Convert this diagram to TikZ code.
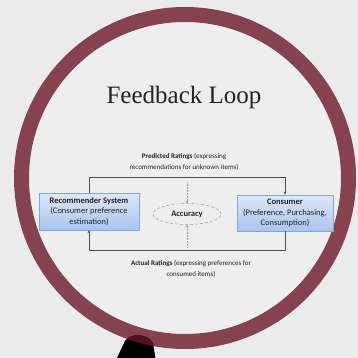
\documentclass[tikz,border=0pt]{standalone}
\usepackage{fontspec}
\setmainfont{Liberation Serif}
\newfontfamily\calfont{Carlito}
\usetikzlibrary{arrows.meta,shapes.geometric}
\definecolor{bg}{HTML}{EBEBEB}
\definecolor{disc}{HTML}{EEEEEE}
\definecolor{ring}{HTML}{854350}
\definecolor{ringdark}{HTML}{560F1E}
\definecolor{boxtop}{HTML}{DDE8FA}
\definecolor{boxbot}{HTML}{A9C4EF}
\definecolor{boxline}{HTML}{86A5D8}
\definecolor{ink}{HTML}{222222}
\definecolor{guide}{HTML}{A0A0A0}
\tikzset{
  sysbox/.style={draw=boxline, line width=0.6pt, top color=boxtop, bottom color=boxbot,
    align=center, font=\calfont\fontsize{8.5}{10.6}\selectfont, text=ink,
    inner sep=0pt},
  flow/.style={draw=ink!80, line width=0.6pt},
  flowarrow/.style={flow, -{Stealth[length=3pt,width=3pt]}},
  guideline/.style={draw=guide, line width=0.5pt, densely dotted},
  caption/.style={align=center, font=\calfont\fontsize{7}{11}\selectfont, text=ink},
}
\begin{document}
\begin{tikzpicture}[x=1pt,y=-1pt]
\useasboundingbox (0,0) rectangle (358,358);
\fill[bg] (0,0) rectangle (358,358);

% magnifier lens
\fill[disc] (185,178) circle[radius=163];
\draw[ring, line width=15pt] (185,178) circle[radius=163.5];

% handle, with the lens rim showing darker where it crosses it
\path[fill=black] (115,362) -- (125,341) .. controls (130,333) and (148,333) .. (153,343) -- (156,362) -- cycle;
\begin{scope}
  \clip (115,362) -- (125,341) .. controls (130,333) and (148,333) .. (153,343) -- (156,362) -- cycle;
  \draw[ringdark, line width=15pt] (185,178) circle[radius=163.5];
\end{scope}

% title
\node[font=\fontsize{25}{30}\selectfont, text=ink] (title) at (184,97) {Feedback Loop};

% blocks
\node[sysbox, minimum width=100pt, minimum height=37pt] (rec) at (89,211.5)
  {\textbf{Recommender System}\\(Consumer preference\\estimation)};
\node[sysbox, minimum width=96pt, minimum height=36pt] (con) at (285,213)
  {\textbf{Consumer}\\(Preference, Purchasing,\\Consumption)};
\node[draw=guide, densely dashed, line width=0.5pt, ellipse, minimum width=68pt, minimum height=21pt,
  font=\calfont\bfseries\fontsize{8.5}{9}\selectfont, text=ink, inner sep=0pt] (acc) at (187,214) {Accuracy};

% feedback loop
\coordinate (tl) at (rec.north |- 0,177);
\coordinate (tr) at (con.north |- 0,177);
\coordinate (bl) at (rec.south |- 0,250);
\coordinate (br) at (con.south |- 0,250);
\draw[flowarrow] (rec.north) -- (tl) -- (tr) -- (con.north);
\draw[flowarrow] (con.south) -- (br) -- (bl) -- (rec.south);

% accuracy comparison guides
\coordinate (gt) at (acc.north |- 0,182);
\coordinate (gb) at (acc.south |- 0,247);
\draw[guideline, -{Stealth[length=2.5pt,width=2.5pt]}] (gt) -- (acc.north);
\draw[guideline, -{Stealth[length=2.5pt,width=2.5pt]}] (gb) -- (acc.south);

% captions
\node[caption] (pred) at (184,161.5) {\textbf{Predicted Ratings} (expressing\\recommendations for unknown items)};
\node[caption] (act) at (191,269) {\textbf{Actual Ratings} (expressing preferences for\\consumed items)};
\end{tikzpicture}
\end{document}
